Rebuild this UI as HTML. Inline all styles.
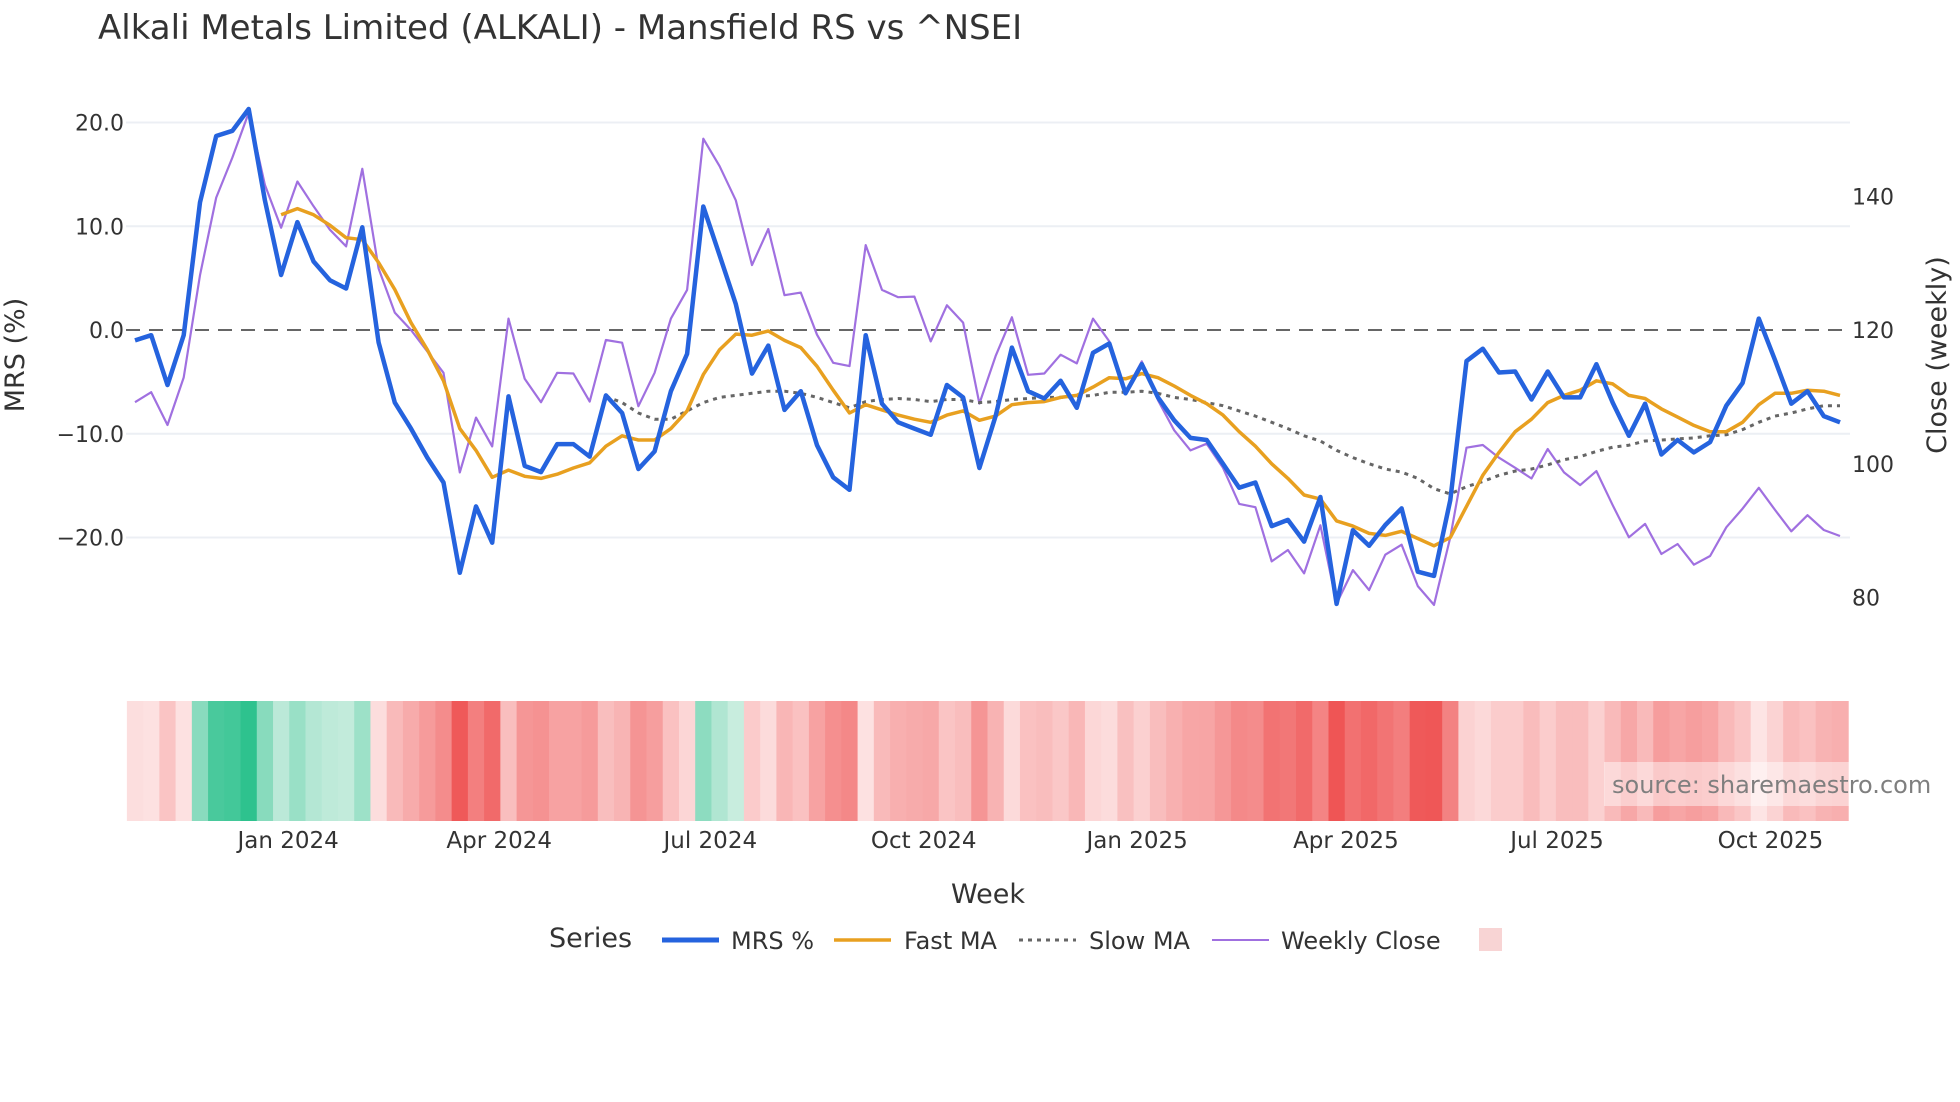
<!DOCTYPE html>
<html><head><meta charset="utf-8"><style>
html,body{margin:0;padding:0;background:#fff;}
svg{display:block;font-family:"DejaVu Sans","Liberation Sans",sans-serif;}
</style></head><body>
<svg id="chart" width="1960" height="1102" viewBox="0 0 1960 1102" xmlns="http://www.w3.org/2000/svg">
<text x="98" y="39" font-size="34" fill="#333">Alkali Metals Limited (ALKALI) - Mansfield RS vs ^NSEI</text>
<g id="grid"></g>
<g id="heat"></g>
<g id="series"></g>
<g id="axes"></g>
<text transform="translate(24,355) rotate(-90)" text-anchor="middle" font-size="27" fill="#333">MRS (%)</text>
<text transform="translate(1946,355) rotate(-90)" text-anchor="middle" font-size="27" fill="#333">Close (weekly)</text>
<text x="988" y="903" text-anchor="middle" font-size="27" fill="#333">Week</text>
<rect x="1604" y="762" width="346" height="44" fill="#ffffff" fill-opacity="0.45"/>
<text x="1612" y="793" font-size="24" fill="#7f7f7f">source: sharemaestro.com</text>
<g>
<text x="549" y="947" font-size="27" fill="#333">Series</text>
<g><line x1="662" y1="940" x2="719" y2="940" stroke="#2563de" stroke-width="5"/><text x="731" y="949" font-size="24" fill="#333">MRS %</text></g>
<g><line x1="834" y1="940" x2="891" y2="940" stroke="#e8a020" stroke-width="3.5"/><text x="904" y="949" font-size="24" fill="#333">Fast MA</text></g>
<g><line x1="1019" y1="940" x2="1076" y2="940" stroke="#666" stroke-width="3" stroke-dasharray="4,5"/><text x="1089" y="949" font-size="24" fill="#333">Slow MA</text></g>
<g><line x1="1212" y1="940" x2="1269" y2="940" stroke="#a070e0" stroke-width="2"/><text x="1281" y="949" font-size="24" fill="#333">Weekly Close</text></g>
<rect x="1479" y="928" width="23" height="23" fill="#f8d4d4"/>
</g>
</svg>
<script>
const mrs=[-1,-0.5,-5.3,-0.5,12.3,18.7,19.2,21.3,12.5,5.3,10.4,6.6,4.8,4.0,9.9,-1.2,-7,-9.5,-12.3,-14.7,-23.4,-17,-20.5,-6.4,-13.1,-13.7,-11,-11,-12.2,-6.3,-8,-13.4,-11.7,-5.9,-2.3,11.9,7.2,2.5,-4.2,-1.5,-7.7,-5.9,-11.1,-14.2,-15.4,-0.5,-7.1,-8.9,-9.5,-10.1,-5.3,-6.5,-13.3,-8.3,-1.7,-5.9,-6.6,-4.9,-7.5,-2.2,-1.3,-6.1,-3.3,-6.5,-8.7,-10.4,-10.6,-12.9,-15.2,-14.7,-18.9,-18.3,-20.4,-16.1,-26.4,-19.3,-20.8,-18.8,-17.2,-23.3,-23.7,-16.4,-3,-1.8,-4.1,-4,-6.7,-4,-6.5,-6.5,-3.3,-7,-10.2,-7.1,-12,-10.6,-11.8,-10.8,-7.3,-5.1,1.1,-2.9,-7.1,-5.9,-8.3,-8.9];
const closeVals=[109.2,110.7,105.8,112.9,128.2,139.8,145.8,152.5,141.7,135.3,142.2,138.5,135,132.5,144.1,129.2,122.6,120,116.8,113.6,98.7,106.9,102.6,121.7,112.7,109.2,113.6,113.5,109.3,118.5,118.1,108.6,113.6,121.7,126,148.6,144.5,139.4,129.7,135.1,125.2,125.6,119.3,115.1,114.6,132.7,126,124.9,125,118.3,123.7,121.1,109,116.1,121.9,113.3,113.5,116.3,115,121.7,118.3,110.8,115.3,109.5,105,102,103,99.4,94,93.5,85.4,87.1,83.6,90.8,79.1,84.1,81.1,86.4,87.9,81.7,78.9,89,102.4,102.8,100.9,99.4,97.8,102.2,98.7,96.8,98.9,93.8,89,91,86.5,88,84.9,86.2,90.5,93.3,96.4,93.1,89.9,92.3,90.1,89.2];
const fastMA=[null,null,null,null,null,null,null,null,null,11.1,11.7,11.1,10.1,8.9,8.7,6.5,3.9,0.7,-1.9,-4.9,-9.5,-11.6,-14.2,-13.5,-14.1,-14.3,-13.9,-13.3,-12.8,-11.2,-10.2,-10.6,-10.6,-9.5,-7.8,-4.3,-1.9,-0.4,-0.5,-0.1,-1,-1.7,-3.5,-5.8,-8,-7.2,-7.7,-8.2,-8.6,-8.9,-8.2,-7.8,-8.7,-8.3,-7.2,-7,-6.9,-6.5,-6.3,-5.5,-4.6,-4.7,-4.2,-4.6,-5.4,-6.3,-7.1,-8.2,-9.8,-11.2,-12.9,-14.3,-15.9,-16.3,-18.4,-18.9,-19.6,-19.8,-19.4,-20.1,-20.8,-20,-17,-14,-11.8,-9.8,-8.6,-7,-6.3,-5.8,-4.9,-5.2,-6.3,-6.6,-7.6,-8.4,-9.2,-9.8,-9.8,-8.9,-7.2,-6.1,-6.1,-5.8,-5.9,-6.3];
const slowMA=[null,null,null,null,null,null,null,null,null,null,null,null,null,null,null,null,null,null,null,null,null,null,null,null,null,null,null,null,null,-6.4,-7,-8,-8.6,-8.6,-7.8,-7,-6.5,-6.3,-6.1,-5.9,-5.9,-6.1,-6.5,-7,-7.5,-6.9,-6.7,-6.6,-6.7,-6.9,-6.7,-6.7,-7,-6.9,-6.7,-6.6,-6.5,-6.5,-6.4,-6.3,-6,-6,-5.9,-6.1,-6.5,-6.7,-7,-7.3,-7.8,-8.3,-8.9,-9.5,-10.2,-10.7,-11.6,-12.3,-12.9,-13.4,-13.7,-14.3,-15.3,-15.8,-15.1,-14.6,-14,-13.6,-13.4,-13,-12.5,-12.2,-11.7,-11.3,-11.1,-10.7,-10.6,-10.5,-10.4,-10.2,-10.1,-9.6,-8.9,-8.3,-8,-7.6,-7.3,-7.3];
const leftTicks=[20,10,0,-10,-20];
const rightTicks=[140,120,100,80];
const dateTicks=["2024-01-01","2024-04-01","2024-07-01","2024-10-01","2025-01-01","2025-04-01","2025-07-01","2025-10-01"];
const dateLabels=["Jan 2024","Apr 2024","Jul 2024","Oct 2024","Jan 2025","Apr 2025","Jul 2025","Oct 2025"];
const startDate="2023-10-27";

const NS="http://www.w3.org/2000/svg";
const X0=135,X1=1840,N=mrs.length,STEP=(X1-X0)/(N-1);
const xS=i=>X0+i*STEP;
const yL=v=>330-v*10.375;
const yR=c=>330-(c-120)*6.6875;
const dateIdx=d=>(new Date(d)-new Date(startDate))/(7*864e5);
function mk(tag,attrs,parent){const e=document.createElementNS(NS,tag);for(const k in attrs)e.setAttribute(k,attrs[k]);parent.appendChild(e);return e;}
const grid=document.getElementById('grid'),heat=document.getElementById('heat'),ser=document.getElementById('series'),axes=document.getElementById('axes');
leftTicks.forEach(t=>{
 if(t!==0){const g=mk('line',{x1:126,x2:1850,y1:yL(t),y2:yL(t),stroke:'#eceff4','stroke-width':2},grid);
 
 }
 const tx=mk('text',{x:124,y:yL(t)+8,'text-anchor':'end','font-size':22,fill:'#333'},axes);tx.textContent=t.toFixed(1).replace('-','\u2212');
 
 
});
rightTicks.forEach(t=>{const tx=mk('text',{x:1852,y:yR(t)+8,'font-size':22,fill:'#333'},axes);tx.textContent=t;
 
 });
const zl=mk('line',{x1:126,x2:1850,y1:yL(0),y2:yL(0),stroke:'#666','stroke-width':2,'stroke-dasharray':'14,9'},grid);


dateTicks.forEach((d,k)=>{const tx=mk('text',{x:xS(dateIdx(d)),y:848,'text-anchor':'middle','font-size':23,fill:'#333'},axes);tx.textContent=dateLabels[k];
 
 });
function heatColor(v){
 if(v>=2){const t=Math.min(Math.pow(v/21,1.6),1);const a=[205,238,225],b=[46,194,142];return `rgb(${a.map((c,j)=>Math.round(c+(b[j]-c)*t)).join(',')})`;}
 const t=Math.min(Math.max(-v,0)/24,1);const a=[253,228,228],b=[239,85,85];return `rgb(${a.map((c,j)=>Math.round(c+(b[j]-c)*t)).join(',')})`;
}
mrs.forEach((v,i)=>{const r=mk('rect',{x:xS(i)-STEP/2,y:701,width:STEP+0.6,height:120,fill:heatColor(v)},heat);
 
 });
function path(arr,yf,attrs,name){let d='',pen=false;arr.forEach((v,i)=>{if(v===null){pen=false;return;}d+=(pen?'L':'M')+xS(i).toFixed(1)+','+yf(v).toFixed(1);pen=true;});
 const p=mk('path',Object.assign({d:d,fill:'none','stroke-linejoin':'round'},attrs),ser);
 
 }
path(closeVals,yR,{stroke:'#a070e0','stroke-width':2.2},'weekly-close-line');
path(slowMA,yL,{stroke:'#666','stroke-width':3,'stroke-dasharray':'4,5'},'slow-ma-line');
path(fastMA,yL,{stroke:'#e8a020','stroke-width':3.5},'fast-ma-line');
path(mrs,yL,{stroke:'#2563de','stroke-width':4.5},'mrs-line');
</script>
</body></html>
